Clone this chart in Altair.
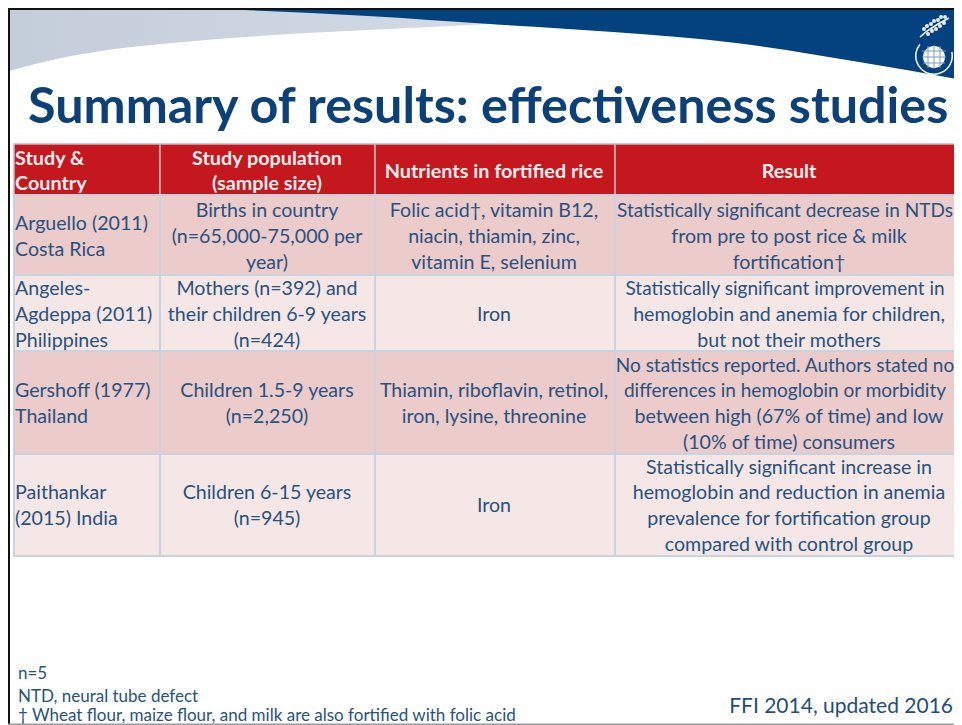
import altair as alt
import pandas as pd

# ---------- content ----------
TITLE = "Summary of results: effectiveness studies"
HEADERS = [["Study &", "Country"], ["Study population", "(sample size)"],
           ["Nutrients in fortified rice"], ["Result"]]
STUDY = [["Arguello (2011)", "Costa Rica"],
         ["Angeles-", "Agdeppa (2011)", "Philippines"],
         ["Gershoff (1977)", "Thailand"],
         ["Paithankar", "(2015) India"]]
POPULATION = [["Births in country", "(n=65,000-75,000 per", "year)"],
              ["Mothers (n=392) and", "their children 6-9 years", "(n=424)"],
              ["Children 1.5-9 years", "(n=2,250)"],
              ["Children 6-15 years", "(n=945)"]]
NUTRIENTS = [["Folic acid†, vitamin B12,", "niacin, thiamin, zinc,", "vitamin E, selenium"],
             ["Iron"],
             ["Thiamin, riboflavin, retinol,", "iron, lysine, threonine"],
             ["Iron"]]
RESULT = [["Statistically significant decrease in NTDs", "from pre to post rice & milk", "fortification†"],
          ["Statistically significant improvement in", "hemoglobin and anemia for children,", "but not their mothers"],
          ["No statistics reported. Authors stated no", "differences in hemoglobin or morbidity", "between high (67% of time) and low", "(10% of time) consumers"],
          ["Statistically significant increase in", "hemoglobin and reduction in anemia", "prevalence for fortification group", "compared with control group"]]
LONG_LINES = ["Statistically significant decrease in NTDs", "No statistics reported. Authors stated no",
              "differences in hemoglobin or morbidity", "Statistically significant improvement in"]
FOOTNOTES = ["n=5", "NTD, neural tube defect", "† Wheat flour, maize flour, and milk are also fortified with folic acid"]
CREDIT = "FFI 2014, updated 2016"

# ---------- slide layout (pixels of the slide) ----------
W, H = 954, 725
TABLE_RIGHT = 970
COL_EDGES = [14, 160, 375, 615, TABLE_RIGHT]
COL_CENTRES = [15, 267, 494, 789]
LONG_CENTRE = 785
ROW_EDGES = [195, 275, 351, 454, 556]
ROW_TEXT = [237.2, 314.7, 404.2, 506.2]
HEAD_TOP, HEAD_MID = 144, 171.5
PITCH = 25.8
LOGO_DX = -3
NAVY, RED, INK = "#03417f", "#c4171e", "#27527f"
FONT = "Lato"

NAVY_EDGE = pd.DataFrame({"x": [190, 368, 490, 613, 736, 859, 962],
                          "y": [8, 16, 24, 32, 43, 62, 80]}).assign(top=8)
GREY_EDGE = pd.DataFrame({"x": [9, 61, 123, 184, 245, 307, 368, 429, 490],
                          "y": [71, 58, 48, 42, 37, 33, 30, 27, 24]}).assign(top=8)

x = alt.X("x:Q", axis=None, scale=alt.Scale(domain=[8, W], nice=False, zero=False))
y = alt.Y("y:Q", axis=None, scale=alt.Scale(domain=[H, 8], nice=False, zero=False))

def rects(rows, **kw):
    return alt.Chart(pd.DataFrame(rows)).mark_rect(**kw).encode(
        x=x, x2="x2:Q", y=y, y2="y2:Q")

def texts(rows, **kw):
    kw.setdefault("font", FONT)
    kw.setdefault("baseline", "middle")
    return alt.Chart(pd.DataFrame(rows)).mark_text(**kw).encode(
        x=x, y=y, text="t:N")

def stack(lines, cx, cy):
    n = len(lines)
    return [{"x": cx, "y": cy + (i - (n - 1) / 2) * PITCH, "t": s} for i, s in enumerate(lines)]

# swoosh
grey = alt.Chart(GREY_EDGE).mark_area(
    interpolate="monotone",
    color=alt.Gradient(gradient="linear", x1=0, x2=1, y1=0, y2=0,
                       stops=[alt.GradientStop(offset=0, color="#c4cdda"),
                              alt.GradientStop(offset=1, color="#d3dae4")])
).encode(x=x, y=y, y2="top:Q")
navy = alt.Chart(NAVY_EDGE).mark_area(interpolate="monotone", color=NAVY).encode(
    x=x, y=y, y2="top:Q")

# logo
logo_ring = alt.Chart(pd.DataFrame({"x": [937 + LOGO_DX], "y": [56]})).mark_arc(
    radius=19, radius2=17.5, theta=1.35, theta2=5.4, color="white").encode(x=x, y=y)
logo_globe = alt.Chart(pd.DataFrame({"x": [937 + LOGO_DX], "y": [57]})).mark_point(
    filled=True, color="white", size=480, opacity=1, shape="circle").encode(x=x, y=y)
logo_grid = rects(
    [{"x": a + LOGO_DX, "x2": b + LOGO_DX, "y": c, "y2": d} for a, b, c, d in
     [(925, 949, 50.5, 51.5), (925, 949, 56.5, 57.5), (926, 948, 62.5, 63.5),
      (930.5, 931.5, 46, 68), (936.5, 937.5, 45, 69), (942.5, 943.5, 46, 68)]],
    color="#7f9dbc")
logo_stalk = alt.Chart(pd.DataFrame({"x": [v + LOGO_DX for v in [923, 930, 941, 952]],
                                     "y": [37, 31, 24, 18]})).mark_line(
    color="white", strokeWidth=1.5).encode(x=x, y=y)
logo_grain = alt.Chart(pd.DataFrame(
    {"x": [v + LOGO_DX for v in [927, 930, 934, 937, 941, 944, 948, 931, 935, 939, 943, 947]],
     "y": [29, 26, 24, 21, 20, 17, 17, 34, 31, 29, 26, 23]})).mark_point(
    filled=True, color="white", size=16, opacity=0.9, shape="circle").encode(x=x, y=y)

# table
head_rows = [{"x": COL_EDGES[i], "x2": COL_EDGES[i + 1], "y": HEAD_TOP, "y2": ROW_EDGES[0]} for i in range(4)]
head = rects(head_rows, color=RED, stroke="#d9b3b8", strokeWidth=1.5)
cell_rows = []
for r in range(4):
    for c in range(4):
        cell_rows.append({"x": COL_EDGES[c], "x2": COL_EDGES[c + 1],
                          "y": ROW_EDGES[r], "y2": ROW_EDGES[r + 1],
                          "fill": "#eccbcb" if r % 2 == 0 else "#f6e7e7"})
cells = alt.Chart(pd.DataFrame(cell_rows)).mark_rect(stroke="#c9d3e0", strokeWidth=2).encode(
    x=x, x2="x2:Q", y=y, y2="y2:Q", fill=alt.Fill("fill:N", scale=None))

head_left = stack(HEADERS[0], COL_CENTRES[0], HEAD_MID)
head_mid = []
for c in (1, 2, 3):
    head_mid += stack(HEADERS[c], COL_CENTRES[c], HEAD_MID)
body_left, body_mid, body_long = [], [], []
for r in range(4):
    body_left += stack(STUDY[r], COL_CENTRES[0], ROW_TEXT[r])
    body_mid += stack(POPULATION[r], COL_CENTRES[1], ROW_TEXT[r])
    body_mid += stack(NUTRIENTS[r], COL_CENTRES[2], ROW_TEXT[r])
    for item in stack(RESULT[r], COL_CENTRES[3], ROW_TEXT[r]):
        if item["t"] in LONG_LINES:
            item["x"] = LONG_CENTRE
            body_long.append(item)
        else:
            body_mid.append(item)

notes = [{"x": 18, "y": yy, "t": s} for yy, s in zip([673.5, 696.5, 715.5], FOOTNOTES)]

frame = rects([{"x": 8, "x2": 10, "y": 8, "y2": H}, {"x": 8, "x2": W, "y": 8, "y2": 10}], color="#111111")
bottom = rects([{"x": 8, "x2": W, "y": 723.5, "y2": H}], color="#9a9a9a")

chart = alt.layer(
    grey, navy, logo_ring, logo_globe, logo_grid, logo_stalk, logo_grain,
    texts([{"x": 28, "y": 108, "t": TITLE}], align="left", fontSize=50.3, fontWeight="bold", color="#0b4079"),
    head, cells,
    texts(head_left, align="left", fontSize=19.8, fontWeight="bold", color="#fbeeee"),
    texts(head_mid, align="center", fontSize=19.8, fontWeight="bold", color="#fbeeee"),
    texts(body_left, align="left", fontSize=19.6, color=INK),
    texts(body_mid, align="center", fontSize=19.6, color=INK),
    texts(body_long, align="center", fontSize=19, color=INK),
    texts(notes, align="left", fontSize=17, color=INK),
    texts([{"x": 953, "y": 707, "t": CREDIT}], align="right", fontSize=21, color="#1f4e79"),
    frame, bottom,
).properties(width=W - 8, height=H - 8, padding=0, background="white",
             autosize=alt.AutoSizeParams(type="none")
).configure_view(stroke=None)

chart.save("out.html", embed_options={"renderer": "svg", "actions": False})
